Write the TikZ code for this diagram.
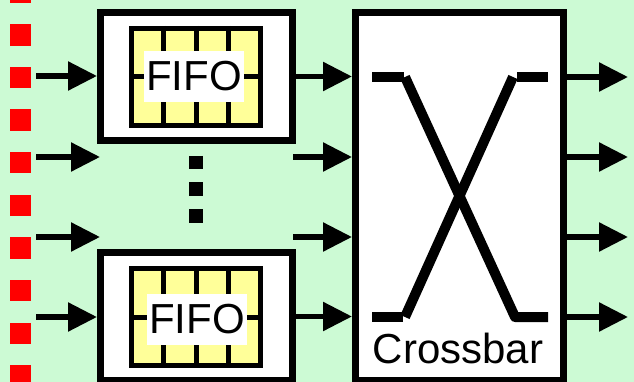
\documentclass[tikz,border=0pt]{standalone}
\usepackage{fontspec}
\setmainfont{Liberation Sans}
\usepackage{tikz}
\usetikzlibrary{arrows.meta}
\definecolor{slidegreen}{RGB}{204,250,212}
\definecolor{fifoyellow}{RGB}{255,255,153}
\definecolor{portred}{RGB}{255,0,0}
\tikzset{
  fifobox/.style={
    rectangle,
    draw=black,
    line width=7pt,
    fill=white,
    minimum width=192pt,
    minimum height=128pt,
    inner sep=0pt
  },
  fifogrid/.style={
    rectangle,
    draw=black,
    line width=5pt,
    fill=fifoyellow,
    minimum width=129pt,
    minimum height=97pt,
    inner sep=0pt
  },
  gridline/.style={
    draw=black,
    line width=5pt
  },
  fifolabel/.style={
    fill=white,
    inner xsep=2pt,
    inner ysep=0pt,
    minimum height=51pt,
    font=\fontsize{42}{42}\selectfont
  },
  xbarbox/.style={
    rectangle,
    draw=black,
    line width=7pt,
    fill=white,
    minimum width=208pt,
    minimum height=368pt,
    inner sep=0pt
  },
  xbarline/.style={
    draw=black,
    line width=10pt
  },
  sigarrow/.style={
    -{Triangle[length=29pt,width=28pt]},
    line width=5.5pt,
    draw=black
  },
  moredots/.style={
    draw=black,
    line width=13.5pt,
    dash pattern=on 13.5pt off 13pt
  }
}

\begin{document}
\begin{tikzpicture}[x=1pt,y=-1pt]
\fill[slidegreen] (0,0) rectangle (634,382);
\useasboundingbox (0,0) rectangle (634,382);

% input ports
\foreach \i in {-1,...,8}
  \fill[portred] (9.5,{24.3+42.6*\i}) rectangle ++(21,21.4);

% queues
\node[fifobox] (fifoA) at (196.5,76.5) {};
\node[fifobox] (fifoB) at (196.5,316.5) {};
\node[fifogrid] (gridA) at (196,77) {};
\node[fifogrid] (gridB) at (196,317) {};
\foreach \g in {gridA,gridB} {
  \draw[gridline] (\g.west) -- (\g.east);
  \foreach \dx in {-32.25,0,32.25}
    \draw[gridline] ([xshift=\dx pt]\g.north) -- ([xshift=\dx pt]\g.south);
}
\node[fifolabel] (labA) at (194,76.5) {FIFO};
\node[fifolabel] (labB) at (197,319) {FIFO};
\draw[moredots] (196,156) -- (196,224);

% switch fabric
\node[xbarbox] (xbar) at (459.5,196.5) {};
\node[anchor=base, inner sep=0pt, font=\fontsize{42}{42}\selectfont] (xbarlab) at (458,363) {Crossbar};
\draw[xbarline] (372,77) -- (404,77);
\draw[xbarline] (517,77) -- (548,77);
\draw[xbarline] (372,317) -- (403,317);
\draw[xbarline, line join=round] (405,77) -- (515,317) -- (548,317);
\draw[xbarline] (513,77) -- (405,317);

% connectors
\coordinate (in1) at (36,76);
\coordinate (in2) at (36,157);
\coordinate (in3) at (36,237);
\coordinate (in4) at (36,317);
\coordinate (gap2) at (100,157);
\coordinate (gap3) at (100,237);
\coordinate (mid2) at (293,157);
\coordinate (mid3) at (293,237);

\draw[sigarrow] (in1) -- (in1 -| fifoA.west);
\draw[sigarrow] (in2) -- (gap2);
\draw[sigarrow] (in3) -- (gap3);
\draw[sigarrow] (in4) -- (in4 -| fifoB.west);

\draw[sigarrow] (fifoA.east) -- (fifoA.east -| xbar.west);
\draw[sigarrow] (mid2) -- (mid2 -| xbar.west);
\draw[sigarrow] (mid3) -- (mid3 -| xbar.west);
\draw[sigarrow] (fifoB.east) -- (fifoB.east -| xbar.west);

\foreach \y/\n in {77/1,157/2,237/3,317/4} {
  \coordinate (out\n) at (628,\y);
  \draw[sigarrow] (out\n -| xbar.east) -- (out\n);
}
\end{tikzpicture}
\end{document}
